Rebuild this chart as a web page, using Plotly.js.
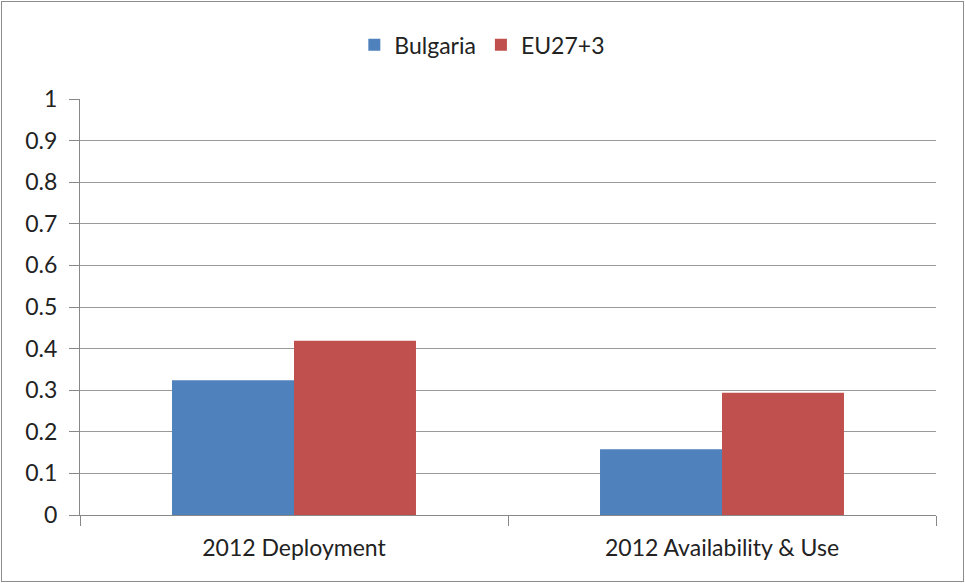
<!DOCTYPE html>
<html>
<head>
<meta charset="utf-8">
<script src="https://cdn.plot.ly/plotly-3.0.1.min.js"></script>
<style>
  body { margin: 0; background: #fff; }
  #chart { position: absolute; left: 1px; top: 1px; width: 961px; height: 579px; border: 1px solid #8c8c8c; }
</style>
</head>
<body>
<div id="chart"></div>
<script>
// data
var categories = ["2012 Deployment", "2012 Availability & Use"];
var bulgaria = [0.324, 0.158];
var eu = [0.419, 0.294];

function createChart() {
    var trace1 = {
        x: categories,
        y: bulgaria,
        name: "Bulgaria",
        type: "bar",
        marker: {color: "#4F81BD"}
    };

    var trace2 = {
        x: categories,
        y: eu,
        name: "EU27+3",
        type: "bar",
        marker: {color: "#C0504D"}
    };

    var data = [trace1, trace2];

    var layout = {
        width: 961,
        height: 579,
        font: {family: "Lato, 'Open Sans', sans-serif", size: 23, color: "#222"},
        barmode: "group",
        bargap: 0.43,
        bargroupgap: 0,
        showlegend: true,
        legend: {
            orientation: "h",
            x: 0.47, xanchor: "center",
            y: 1.13, yanchor: "middle",
            itemwidth: 30,
            font: {size: 23}
        },
        xaxis: {
            type: "category",
            tickson: "boundaries",
            ticks: "outside",
            ticklen: 10,
            tickcolor: "#888",
            ticklabelstandoff: 12,
            showline: true,
            linecolor: "#888",
            showgrid: false,
            automargin: false
        },
        yaxis: {
            range: [0, 1],
            dtick: 0.1,
            ticks: "outside",
            ticklen: 10,
            tickcolor: "#888",
            ticklabelstandoff: 7,
            showline: true,
            linecolor: "#888",
            gridcolor: "#999",
            zeroline: false,
            automargin: false
        },
        margin: {
            t: 97,  //top margin
            l: 78,  //left margin
            r: 27,  //right margin
            b: 66   //bottom margin
        },
        paper_bgcolor: "#fff",
        plot_bgcolor: "#fff"
    };

    Plotly.newPlot("chart", data, layout, {displayModeBar: false});
}

createChart();
</script>
</body>
</html>
